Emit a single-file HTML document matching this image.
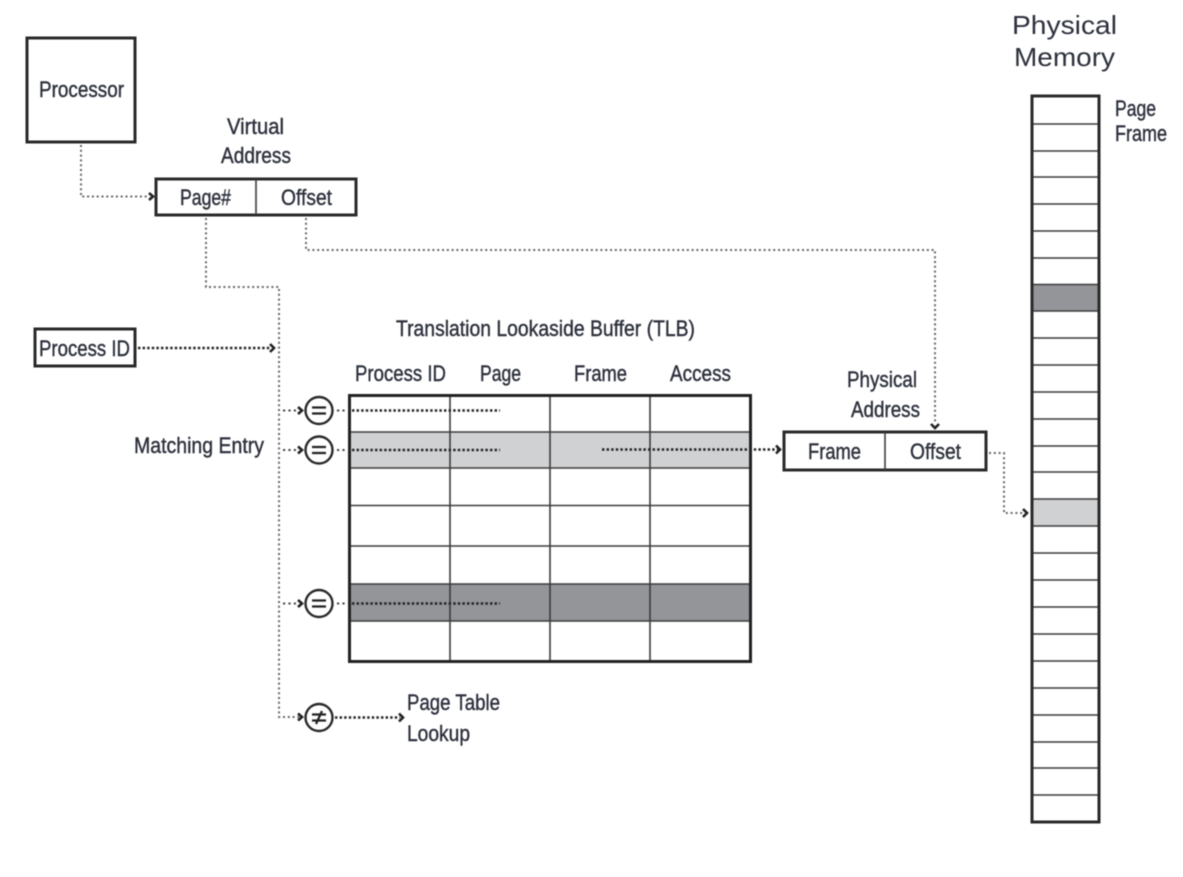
<!DOCTYPE html>
<html>
<head>
<meta charset="utf-8">
<style>
html,body{margin:0;padding:0;background:#fff;width:1183px;height:877px;overflow:hidden}
svg{display:block;filter:blur(0.4px)}
text{font-family:"Liberation Sans",sans-serif;font-size:22px;fill:#2c303c;stroke:#2c303c;stroke-width:0.4px}
.big{font-size:26px;stroke:none}
.box{fill:#fff;stroke:#2a2a2a;stroke-width:3}
.ln{stroke:#3c3c3c;stroke-width:1.6;fill:none}
.d1{stroke:#666;stroke-width:2;fill:none;stroke-dasharray:2 2.8}
.d2{stroke:#222;stroke-width:2.4;fill:none;stroke-dasharray:2.4 2.2}
.ds{stroke:#444;stroke-width:2;fill:none;stroke-dasharray:2.2 3.2}
.ah{stroke:#222;stroke-width:2.6;fill:none}
.c{fill:#fff;stroke:#2a2a2a;stroke-width:2.4}
</style>
</head>
<body>
<svg width="1183" height="877" viewBox="0 0 1183 877" xmlns="http://www.w3.org/2000/svg">
<rect class="box" x="27" y="38" width="108" height="104"/>
<text x="39" y="97" textLength="85" lengthAdjust="spacingAndGlyphs">Processor</text>

<text x="227" y="134" textLength="57" lengthAdjust="spacingAndGlyphs">Virtual</text>
<text x="221" y="163" textLength="70" lengthAdjust="spacingAndGlyphs">Address</text>
<rect class="box" x="156" y="179" width="200" height="36"/>
<line class="ln" x1="256" y1="179" x2="256" y2="215"/>
<text x="180" y="205" textLength="51" lengthAdjust="spacingAndGlyphs">Page#</text>
<text x="281" y="205" textLength="51" lengthAdjust="spacingAndGlyphs">Offset</text>

<rect class="box" x="35" y="329" width="100" height="37"/>
<text x="39" y="356" textLength="91" lengthAdjust="spacingAndGlyphs">Process ID</text>

<text x="396" y="336" textLength="299" lengthAdjust="spacingAndGlyphs">Translation Lookaside Buffer (TLB)</text>
<text x="355" y="381" textLength="91" lengthAdjust="spacingAndGlyphs">Process ID</text>
<text x="480" y="381" textLength="41" lengthAdjust="spacingAndGlyphs">Page</text>
<text x="574" y="381" textLength="53" lengthAdjust="spacingAndGlyphs">Frame</text>
<text x="670" y="381" textLength="61" lengthAdjust="spacingAndGlyphs">Access</text>
<text x="134" y="453" textLength="130" lengthAdjust="spacingAndGlyphs">Matching Entry</text>

<rect x="350" y="396" width="400" height="265" fill="#fff"/>
<rect x="350" y="432" width="400" height="36" fill="#d0d1d3"/>
<rect x="350" y="584" width="400" height="37" fill="#939598"/>
<line class="ln" x1="350" y1="432" x2="750" y2="432"/>
<line class="ln" x1="350" y1="468" x2="750" y2="468"/>
<line class="ln" x1="350" y1="505.500" x2="750" y2="505.500"/>
<line class="ln" x1="350" y1="546" x2="750" y2="546"/>
<line class="ln" x1="350" y1="584" x2="750" y2="584"/>
<line class="ln" x1="350" y1="621" x2="750" y2="621"/>
<line class="ln" x1="450" y1="396" x2="450" y2="660"/>
<line class="ln" x1="550" y1="396" x2="550" y2="660"/>
<line class="ln" x1="650" y1="396" x2="650" y2="660"/>
<rect x="349.500" y="395.500" width="401" height="266" fill="none" stroke="#222" stroke-width="3"/>

<text x="847" y="387" textLength="70" lengthAdjust="spacingAndGlyphs">Physical</text>
<text x="851" y="417" textLength="69" lengthAdjust="spacingAndGlyphs">Address</text>
<rect class="box" x="784" y="432" width="202" height="38"/>
<line class="ln" x1="885" y1="432" x2="885" y2="470"/>
<text x="808" y="459" textLength="53" lengthAdjust="spacingAndGlyphs">Frame</text>
<text x="910" y="459" textLength="51" lengthAdjust="spacingAndGlyphs">Offset</text>

<text x="407" y="710" textLength="93" lengthAdjust="spacingAndGlyphs">Page Table</text>
<text x="407" y="741" textLength="63" lengthAdjust="spacingAndGlyphs">Lookup</text>

<text class="big" x="1012" y="34" textLength="105" lengthAdjust="spacingAndGlyphs">Physical</text>
<text class="big" x="1014" y="66" textLength="101" lengthAdjust="spacingAndGlyphs">Memory</text>
<text x="1115" y="116" textLength="41" lengthAdjust="spacingAndGlyphs">Page</text>
<text x="1115" y="141" textLength="52" lengthAdjust="spacingAndGlyphs">Frame</text>

<rect x="1032" y="96" width="67" height="726" fill="#fff"/>
<rect x="1032" y="284.500" width="67" height="26.500" fill="#939598"/>
<rect x="1032" y="499" width="67" height="27" fill="#d0d1d3"/>
<path class="ln" d="M1032 124H1099M1032 151H1099M1032 177H1099M1032 204H1099M1032 231H1099M1032 258H1099M1032 284.500H1099M1032 311H1099M1032 338H1099M1032 365H1099M1032 392H1099M1032 419H1099M1032 446H1099M1032 472H1099M1032 499H1099M1032 526H1099M1032 553H1099M1032 580H1099M1032 607H1099M1032 634H1099M1032 661H1099M1032 688H1099M1032 715H1099M1032 742H1099M1032 768H1099M1032 795H1099"/>
<rect x="1032" y="96" width="67" height="726" fill="none" stroke="#2a2a2a" stroke-width="3"/>

<path class="d1" d="M81 145V196.500H149"/>
<path class="ah" d="M149 193l4 3.500l-4 3.500"/>
<path class="d1" d="M206 218V287H279V717H299"/>
<path class="d1" d="M306 218V250H935V423"/>
<path class="ah" d="M931 424l4 4l4-4"/>
<path class="d1" d="M989 453H1004V513H1024"/>
<path class="ah" d="M1023 509l4 4l-4 4"/>
<path class="d2" d="M138 348H270"/>
<path class="ah" d="M270 344l4 4l-4 4"/>

<path class="ds" d="M283 410.500H298"/><path class="ah" d="M298 407l4 3.500l-4 3.500"/>
<path class="ds" d="M283 450H298"/><path class="ah" d="M298 446.500l4 3.500l-4 3.500"/>
<path class="ds" d="M283 603.500H298"/><path class="ah" d="M298 600l4 3.500l-4 3.500"/>
<path class="ah" d="M298 713.500l4 3.500l-4 3.500"/>

<circle class="c" cx="319" cy="410.500" r="13.500"/>
<circle class="c" cx="319" cy="450" r="13.500"/>
<circle class="c" cx="319" cy="603.500" r="13.500"/>
<circle class="c" cx="319" cy="717.500" r="13.500"/>
<path stroke="#222" stroke-width="2.2" fill="none" d="M312 407.500H326M312 413.500H326M312 447H326M312 453H326M312 600.500H326M312 606.500H326M312 714.500H326M312 720.500H326M322 711L316 724"/>

<path class="ds" d="M337 410.500H346"/>
<path class="ds" d="M337 450H346"/>
<path class="ds" d="M337 603.500H346"/>
<path class="d2" d="M352 410.500H500"/>
<path class="d2" d="M352 450H500"/>
<path class="d2" d="M352 603.500H500"/>
<path class="d2" d="M602 449.500H778"/>
<path class="ah" d="M776 445.500l4 4l-4 4"/>
<path class="d2" d="M335 717.500H400"/>
<path class="ah" d="M399 713.500l4 4l-4 4"/>
</svg>
</body>
</html>
